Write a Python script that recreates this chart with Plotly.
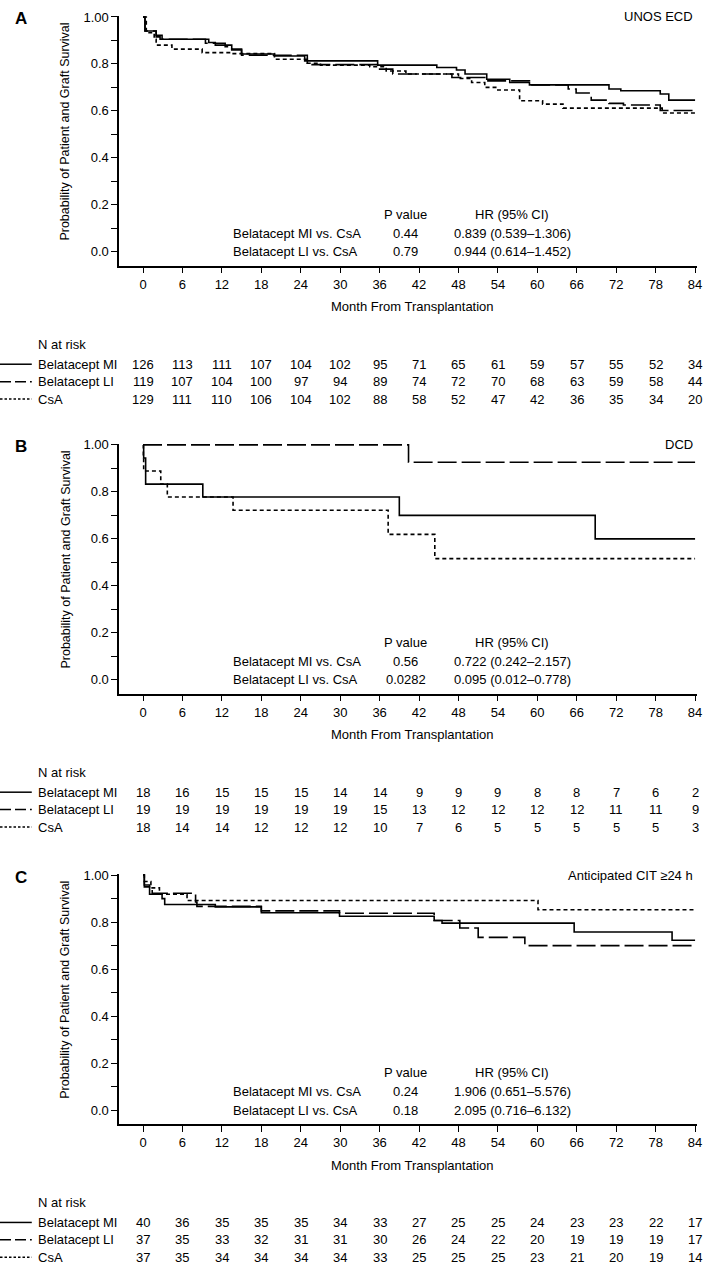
import plotly.graph_objects as go

# ---------------- data ----------------
months = [0, 6, 12, 18, 24, 30, 36, 42, 48, 54, 60, 66, 72, 78, 84]
group_names = ["Belatacept MI", "Belatacept LI", "CsA"]
panel_letters = ["A", "B", "C"]
panel_titles = ["UNOS ECD", "DCD", "Anticipated CIT \u226524 h"]

# Panel A (UNOS ECD) Kaplan-Meier steps
A_mi_t = [0, 0.3, 2, 2.9, 10, 11, 13.5, 15, 20, 24.6, 35.7, 44.7, 47.7, 49, 52.3, 55.8, 58.8, 70.9, 72.7, 78.7, 80, 84]
A_mi_s = [1.0, 0.94, 0.922, 0.905, 0.891, 0.88, 0.863, 0.842, 0.834, 0.813, 0.795, 0.785, 0.774, 0.757, 0.735, 0.721, 0.711, 0.693, 0.686, 0.672, 0.646, 0.646]
A_li_t = [0, 0.3, 2, 2.6, 9.5, 12.5, 13.5, 15, 25, 36, 38, 47, 52, 58.8, 64.7, 65.9, 68.2, 70.9, 73.1, 78.7, 84]
A_li_s = [1.0, 0.94, 0.915, 0.905, 0.888, 0.873, 0.859, 0.837, 0.797, 0.778, 0.757, 0.742, 0.728, 0.711, 0.693, 0.676, 0.646, 0.632, 0.625, 0.602, 0.602]
A_csa_t = [0, 0.5, 1.7, 2, 4.4, 9, 13.5, 20, 25, 27, 34.5, 37, 40, 48, 50, 52, 53.8, 57.3, 60.8, 63.9, 79, 84]
A_csa_s = [1.0, 0.933, 0.905, 0.88, 0.863, 0.848, 0.844, 0.82, 0.803, 0.795, 0.788, 0.77, 0.757, 0.738, 0.721, 0.70, 0.689, 0.643, 0.629, 0.612, 0.591, 0.591]

# Panel B (DCD)
B_mi_t = [0, 0.1, 0.4, 9.1, 39, 68.8, 84]
B_mi_s = [1.0, 0.944, 0.833, 0.778, 0.70, 0.60, 0.60]
B_li_t = [0, 40.4, 84]
B_li_s = [1.0, 0.926, 0.926]
B_csa_t = [0, 0.05, 0.1, 2.7, 3.7, 13.7, 37.3, 44.4, 84]
B_csa_s = [1.0, 0.944, 0.889, 0.833, 0.778, 0.722, 0.619, 0.516, 0.516]

# Panel C (Anticipated CIT >=24 h)
C_mi_t = [0, 0.2, 1, 2.9, 3.3, 11, 18, 29.9, 44.3, 45.5, 65.6, 80.5, 84]
C_mi_s = [1.0, 0.958, 0.919, 0.90, 0.875, 0.865, 0.84, 0.825, 0.807, 0.796, 0.758, 0.723, 0.723]
C_li_t = [0, 0.2, 1.4, 8, 8.2, 18, 29.9, 44.3, 48.2, 51, 58.1, 84]
C_li_s = [1.0, 0.95, 0.923, 0.886, 0.867, 0.848, 0.838, 0.807, 0.775, 0.735, 0.70, 0.70]
C_csa_t = [0, 0.2, 1.2, 2.5, 6.7, 60.1, 84]
C_csa_s = [1.0, 0.973, 0.946, 0.919, 0.892, 0.853, 0.853]

# Numbers at risk
A_risk_mi = [126, 113, 111, 107, 104, 102, 95, 71, 65, 61, 59, 57, 55, 52, 34]
A_risk_li = [119, 107, 104, 100, 97, 94, 89, 74, 72, 70, 68, 63, 59, 58, 44]
A_risk_csa = [129, 111, 110, 106, 104, 102, 88, 58, 52, 47, 42, 36, 35, 34, 20]
B_risk_mi = [18, 16, 15, 15, 15, 14, 14, 9, 9, 9, 8, 8, 7, 6, 2]
B_risk_li = [19, 19, 19, 19, 19, 19, 15, 13, 12, 12, 12, 12, 11, 11, 9]
B_risk_csa = [18, 14, 14, 12, 12, 12, 10, 7, 6, 5, 5, 5, 5, 5, 3]
C_risk_mi = [40, 36, 35, 35, 35, 34, 33, 27, 25, 25, 24, 23, 23, 22, 17]
C_risk_li = [37, 35, 33, 32, 31, 31, 30, 26, 24, 22, 20, 19, 19, 19, 17]
C_risk_csa = [37, 35, 34, 34, 34, 34, 33, 25, 25, 25, 23, 21, 20, 19, 14]

# Comparison statistics
comparisons = ["Belatacept MI vs. CsA", "Belatacept LI vs. CsA"]
A_pvals = ["0.44", "0.79"]
A_hr = ["0.839 (0.539\u20131.306)", "0.944 (0.614\u20131.452)"]
B_pvals = ["0.56", "0.0282"]
B_hr = ["0.722 (0.242\u20132.157)", "0.095 (0.012\u20130.778)"]
C_pvals = ["0.24", "0.18"]
C_hr = ["1.906 (0.651\u20135.576)", "2.095 (0.716\u20136.132)"]

y_ticks = [0.0, 0.1, 0.2, 0.3, 0.4, 0.5, 0.6, 0.7, 0.8, 0.9, 1.0]
y_ticktext = ["0.0", "", "0.2", "", "0.4", "", "0.6", "", "0.8", "", "1.00"]

panels = [
    dict(curves=[(A_mi_t, A_mi_s), (A_li_t, A_li_s), (A_csa_t, A_csa_s)],
         risk=[A_risk_mi, A_risk_li, A_risk_csa], p=A_pvals, hr=A_hr),
    dict(curves=[(B_mi_t, B_mi_s), (B_li_t, B_li_s), (B_csa_t, B_csa_s)],
         risk=[B_risk_mi, B_risk_li, B_risk_csa], p=B_pvals, hr=B_hr),
    dict(curves=[(C_mi_t, C_mi_s), (C_li_t, C_li_s), (C_csa_t, C_csa_s)],
         risk=[C_risk_mi, C_risk_li, C_risk_csa], p=C_pvals, hr=C_hr),
]

# ---------------- layout constants ----------------
W, H = 709, 1269
FONT = "Liberation Sans, Arial, sans-serif"
FS = 13
panel_top_px = [11.0, 441.0, 873.3]   # pixel row of y = 1.0
PXU = 236.0                            # pixels per unit of survival
YR = [-0.059, 1.005]
X_DOM = [120 / W, 702 / W]
X_RANGE = [-3.63, 84.3]
dashes = ["solid", "19px,5px", "4px,3px"]
sample_dashes = ["solid", "11px,4px", "2.5px,2px"]


def yp(px):
    return 1 - px / H


fig = go.Figure()
annotations = []
shapes = []

for i, pan in enumerate(panels):
    n = "" if i == 0 else str(i + 1)
    xa, ya = "x" + n, "y" + n
    top = panel_top_px[i]
    dom_top = top - (YR[1] - 1.0) * PXU
    dom_bot = top + (1.0 - YR[0]) * PXU

    for g, (t, s) in enumerate(pan["curves"]):
        fig.add_trace(go.Scatter(
            x=t, y=s, mode="lines", xaxis=xa, yaxis=ya,
            line=dict(shape="hv", color="black", width=1.6, dash=dashes[g]),
            showlegend=False, hoverinfo="skip"))

    fig.layout["xaxis" + n] = dict(
        domain=X_DOM, range=X_RANGE, anchor=ya, tickmode="array", tickvals=months,
        ticks="outside", ticklen=6, tickwidth=1.3, tickcolor="black",
        showline=True, linewidth=1.5, linecolor="black", showgrid=False, zeroline=False,
        tickfont=dict(family=FONT, size=FS, color="black"))
    fig.layout["yaxis" + n] = dict(
        domain=[yp(dom_bot), yp(dom_top)], range=YR, anchor=xa, tickmode="array",
        tickvals=y_ticks, ticktext=y_ticktext,
        ticks="outside", ticklen=6, tickwidth=1.3, tickcolor="black",
        showline=True, linewidth=1.5, linecolor="black", showgrid=False, zeroline=False,
        tickfont=dict(family=FONT, size=FS, color="black"))

    annotations.append(dict(text="<b>%s</b>" % panel_letters[i], xref="paper", yref="paper",
                            x=13 / W, y=yp(top + 2), xanchor="left", yanchor="middle",
                            showarrow=False, font=dict(family=FONT, size=17, color="black")))
    annotations.append(dict(text=panel_titles[i], xref=xa, yref=ya, x=84, y=1.0,
                            xanchor="right", yanchor="middle", showarrow=False,
                            font=dict(family=FONT, size=FS, color="black")))
    annotations.append(dict(text="Probability of Patient and Graft Survival", textangle=-90,
                            xref="paper", yref=ya, x=66 / W, y=0.51, xanchor="center", yanchor="middle",
                            showarrow=False, font=dict(family=FONT, size=12.5, color="black")))
    annotations.append(dict(text="Month From Transplantation", xref="paper", yref="paper",
                            x=415 / W, y=yp(dom_bot + 41.5), xanchor="center", yanchor="middle",
                            showarrow=False, font=dict(family=FONT, size=FS, color="black")))
    stat_font = dict(family=FONT, size=FS, color="black")
    annotations.append(dict(text="P value", xref=xa, yref=ya, x=40, y=0.16, xanchor="center",
                            yanchor="middle", showarrow=False, font=stat_font))
    annotations.append(dict(text="HR (95% CI)", xref=xa, yref=ya, x=56.2, y=0.16, xanchor="center",
                            yanchor="middle", showarrow=False, font=stat_font))
    for r, yy in enumerate([0.079, 0.0]):
        annotations.append(dict(text=comparisons[r], xref=xa, yref=ya, x=13.45, y=yy, xanchor="left",
                                yanchor="middle", showarrow=False, font=stat_font))
        annotations.append(dict(text=pan["p"][r], xref=xa, yref=ya, x=40, y=yy, xanchor="center",
                                yanchor="middle", showarrow=False, font=stat_font))
        annotations.append(dict(text=pan["hr"][r], xref=xa, yref=ya, x=56.2, y=yy, xanchor="center",
                                yanchor="middle", showarrow=False, font=stat_font))

    annotations.append(dict(text="N at risk", xref="paper", yref="paper", x=36 / W, y=yp(dom_bot + 79),
                            xanchor="left", yanchor="middle", showarrow=False,
                            font=dict(family=FONT, size=FS, color="black")))
    row_px = [dom_bot + 99, dom_bot + 116.5, dom_bot + 134]
    for g in range(3):
        annotations.append(dict(text=group_names[g], xref="paper", yref="paper", x=36 / W, y=yp(row_px[g]),
                                xanchor="left", yanchor="middle", showarrow=False,
                                font=dict(family=FONT, size=FS, color="black")))
        shapes.append(dict(type="line", xref="paper", yref="paper", x0=0, x1=32 / W,
                           y0=yp(row_px[g]), y1=yp(row_px[g]),
                           line=dict(color="black", width=1.5, dash=sample_dashes[g])))
        for m, v in zip(months, pan["risk"][g]):
            annotations.append(dict(text=str(v), xref=xa, yref="paper", x=m, y=yp(row_px[g]),
                                    xanchor="center", yanchor="middle", showarrow=False,
                                    font=dict(family=FONT, size=FS, color="black")))

fig.update_layout(width=W, height=H, margin=dict(l=0, r=0, t=0, b=0),
                  paper_bgcolor="white", plot_bgcolor="white",
                  annotations=annotations, shapes=shapes, showlegend=False,
                  font=dict(family=FONT, size=FS, color="black"))

fig.write_html("out.html", config={"displayModeBar": False},
               post_script="document.body.style.margin='0';document.body.style.padding='0';")
